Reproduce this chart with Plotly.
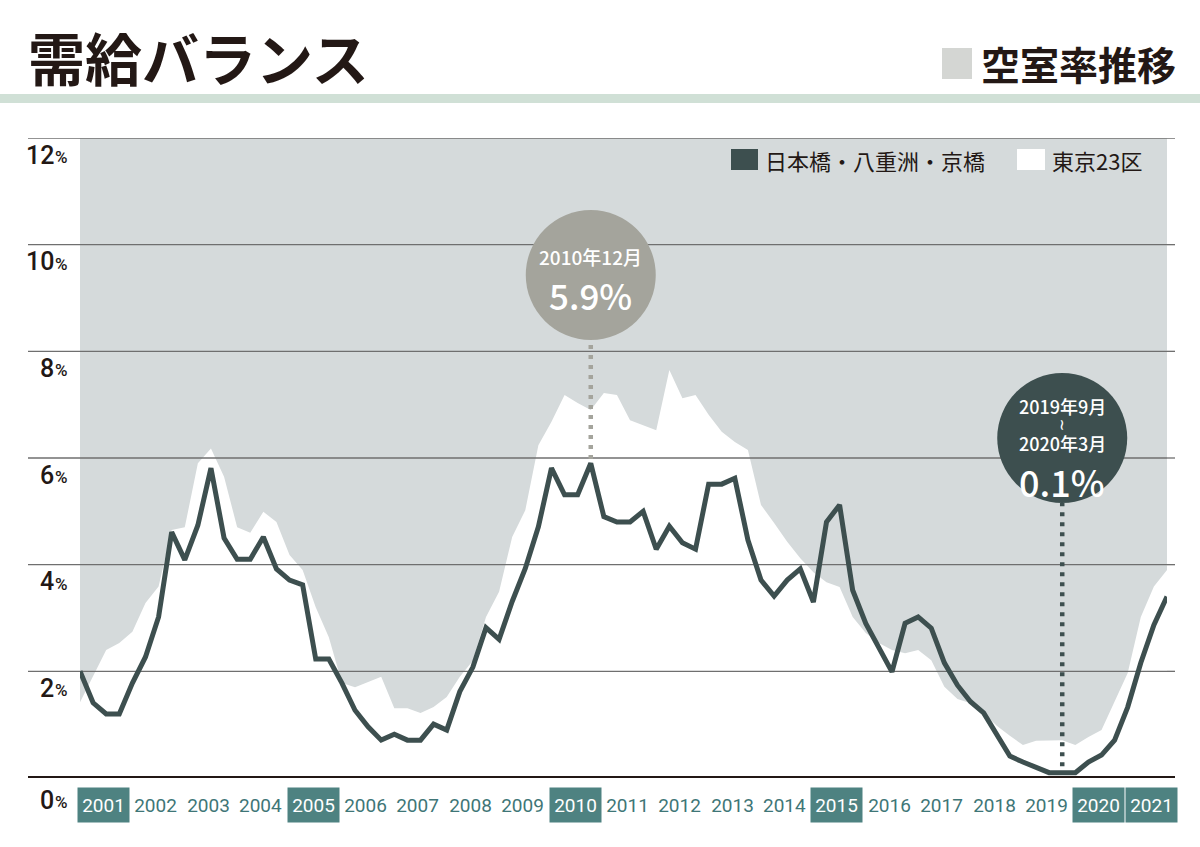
import plotly.graph_objects as go

# ---------------- data ----------------
years = list(range(2001, 2022))
months = [3, 6, 9, 12]
periods = [f"{y}年{m}月" for y in years for m in months]

# 日本橋・八重洲・京橋 vacancy rate (%), quarterly
nihonbashi = [
    2.00, 1.41, 1.20, 1.20, 1.78, 2.27, 3.02, 4.61, 4.09, 4.74, 5.81, 4.50,
    4.10, 4.10, 4.52, 3.92, 3.71, 3.62, 2.23, 2.23, 1.78, 1.27, 0.96, 0.71,
    0.82, 0.71, 0.71, 1.01, 0.90, 1.62, 2.08, 2.82, 2.60, 3.31, 3.93, 4.71,
    5.81, 5.31, 5.31, 5.90, 4.90, 4.80, 4.80, 5.00, 4.29, 4.72, 4.41, 4.29,
    5.51, 5.51, 5.62, 4.46, 3.71, 3.41, 3.71, 3.92, 3.30, 4.80, 5.12, 3.52,
    2.90, 2.43, 1.99, 2.90, 3.02, 2.81, 2.16, 1.74, 1.43, 1.22, 0.81, 0.41,
    0.30, 0.21, 0.10, 0.10, 0.10, 0.30, 0.43, 0.71, 1.33, 2.16, 2.87, 3.40,
]
# 東京23区 vacancy rate (%), quarterly
tokyo23 = [
    1.42, 1.90, 2.40, 2.53, 2.74, 3.28, 3.59, 4.65, 4.70, 5.90, 6.18, 5.65,
    4.70, 4.60, 4.99, 4.80, 4.18, 3.90, 3.20, 2.64, 1.78, 1.70, 1.80, 1.90,
    1.31, 1.31, 1.22, 1.33, 1.52, 1.90, 2.20, 3.02, 3.49, 4.52, 5.02, 6.24,
    6.68, 7.18, 7.03, 6.90, 7.22, 7.18, 6.71, 6.62, 6.52, 7.65, 7.12, 7.18,
    6.81, 6.49, 6.30, 6.15, 5.12, 4.78, 4.43, 4.12, 3.86, 3.67, 3.58, 3.02,
    2.72, 2.53, 2.40, 2.34, 2.40, 2.21, 1.71, 1.48, 1.40, 1.22, 0.98, 0.79,
    0.62, 0.70, 0.71, 0.71, 0.62, 0.77, 0.90, 1.43, 1.97, 3.02, 3.59, 3.90,
]
y_ticks = [0, 2, 4, 6, 8, 10, 12]
highlight_years = [2001, 2005, 2010, 2015, 2020, 2021]

peak_label = "2010年12月"
low_labels = ["2019年9月", "2020年3月"]

# ---------------- layout constants ----------------
W, H = 1200, 847
L, R, T, B = 80, 1167, 138, 778
PW, PH = R - L, B - T

DARK = "#3d4f4f"
GRAY_BG = "#d5dadb"
BUBBLE_GRAY = "#a4a49c"
TEAL = "#4e8281"
TEAL_TXT = "#3f7677"
INK = "#231815"
GRID = "#6f6f6f"
JP = "Noto Sans CJK JP"


def px_x(p):
    return (p - L) / PW


def px_y(p):
    return (B - p) / PH


units_per_px = (y_ticks[-1] - y_ticks[0]) / PH

x = list(range(len(periods)))

fig = go.Figure()

# 東京23区 (white area)
fig.add_trace(go.Scatter(x=x, y=tokyo23, mode="lines", fill="tozeroy",
                         fillcolor="white", line=dict(width=0, color="white"),
                         hoverinfo="skip"))
# inner grid lines (above the white area, below the dark line)
gx, gy = [], []
for v in y_ticks[1:-1]:
    gx += [x[0], x[-1], None]
    gy += [v, v, None]
fig.add_trace(go.Scatter(x=gx, y=gy, mode="lines",
                         line=dict(color=GRID, width=1.3), hoverinfo="skip"))

shapes = []
# bubble 1 (peak)
peak_i = periods.index(peak_label)
peak_v = nihonbashi[peak_i]
r_px = 65
c1_v = (B - 275) * units_per_px
shapes.append(dict(type="line", xref="x", yref="y", x0=peak_i, x1=peak_i,
                   y0=peak_v + 0.08, y1=c1_v - r_px * units_per_px,
                   line=dict(color=BUBBLE_GRAY, width=4.5, dash="4px,6px"),
                   layer="above"))
shapes.append(dict(type="circle", xref="x", yref="y", xsizemode="pixel",
                   ysizemode="pixel", xanchor=peak_i, yanchor=c1_v,
                   x0=-r_px, x1=r_px, y0=-r_px, y1=r_px,
                   fillcolor=BUBBLE_GRAY, line=dict(width=0), layer="above"))

# bubble 2 (low)
low_i0 = periods.index(low_labels[0])
low_i1 = periods.index(low_labels[1])
low_i = (low_i0 + low_i1) / 2
low_v = nihonbashi[low_i0]
c2_v = (B - 438) * units_per_px
fig.add_trace(go.Scatter(x=[low_i, low_i], y=[low_v + 0.12, c2_v - r_px * units_per_px],
                         mode="lines", line=dict(color=DARK, width=4.5, dash="4px,6px"),
                         hoverinfo="skip"))
# 日本橋・八重洲・京橋 line
fig.add_trace(go.Scatter(x=x, y=nihonbashi, mode="lines",
                         line=dict(color=DARK, width=5), hoverinfo="skip"))

shapes.append(dict(type="circle", xref="x", yref="y", xsizemode="pixel",
                   ysizemode="pixel", xanchor=low_i, yanchor=c2_v,
                   x0=-r_px, x1=r_px, y0=-r_px, y1=r_px,
                   fillcolor=DARK, line=dict(width=0), layer="above"))

# grid line extensions outside plot, top line and base line
for v in y_ticks:
    if v == 0:
        shapes.append(dict(type="line", xref="paper", yref="y", x0=px_x(28), x1=px_x(1175),
                           y0=v, y1=v, line=dict(color=INK, width=4), layer="above"))
    elif v == y_ticks[-1]:
        shapes.append(dict(type="line", xref="paper", yref="y", x0=px_x(28), x1=px_x(1175),
                           y0=v, y1=v, line=dict(color=GRID, width=1.3), layer="above"))
    else:
        shapes.append(dict(type="line", xref="paper", yref="y", x0=px_x(28), x1=0,
                           y0=v, y1=v, line=dict(color=GRID, width=1.3), layer="above"))
        shapes.append(dict(type="line", xref="paper", yref="y", x0=1, x1=px_x(1175),
                           y0=v, y1=v, line=dict(color=GRID, width=1.3), layer="above"))

# header band
shapes.append(dict(type="rect", xref="paper", yref="paper", x0=px_x(0), x1=px_x(W),
                   y0=px_y(103), y1=px_y(94), fillcolor="#d0e0d6", line=dict(width=0)))
# subtitle square
shapes.append(dict(type="rect", xref="paper", yref="paper", x0=px_x(942), x1=px_x(972),
                   y0=px_y(79), y1=px_y(48), fillcolor="#d4d6d3", line=dict(width=0)))
# legend squares
shapes.append(dict(type="rect", xref="paper", yref="paper", x0=px_x(731), x1=px_x(758),
                   y0=px_y(170), y1=px_y(149), fillcolor=DARK, line=dict(width=0),
                   layer="above"))
shapes.append(dict(type="rect", xref="paper", yref="paper", x0=px_x(1017), x1=px_x(1045),
                   y0=px_y(170), y1=px_y(149), fillcolor="white", line=dict(width=0),
                   layer="above"))

ann = []
# title / subtitle
ann.append(dict(text="<b>需給バランス</b>", xref="paper", yref="paper", x=px_x(26), y=px_y(56),
                xanchor="left", yanchor="middle", showarrow=False,
                font=dict(family=JP, size=57, color=INK)))
ann.append(dict(text="<b>空室率推移</b>", xref="paper", yref="paper", x=px_x(1178), y=px_y(63),
                xanchor="right", yanchor="middle", showarrow=False,
                font=dict(family=JP, size=39, color=INK)))
# legend texts
ann.append(dict(text="日本橋・八重洲・京橋", xref="paper", yref="paper", x=px_x(763), y=px_y(160),
                xanchor="left", yanchor="middle", showarrow=False,
                font=dict(family=JP, size=22, color=INK)))
ann.append(dict(text="東京23区", xref="paper", yref="paper", x=px_x(1050), y=px_y(160),
                xanchor="left", yanchor="middle", showarrow=False,
                font=dict(family=JP, size=22, color=INK)))

# y labels: number + smaller percent sign
for v in y_ticks:
    off = 22 if v == 0 else 17
    ann.append(dict(text=str(v), xref="paper", yref="y", x=px_x(54), y=v,
                    xanchor="right", yanchor="middle", yshift=-off, xshift=2,
                    showarrow=False,
                    font=dict(family="Roboto", size=25, color=INK, weight=500)))
    ann.append(dict(text="%", xref="paper", yref="y", x=px_x(54), y=v,
                    xanchor="left", yanchor="middle", yshift=-off - 2, xshift=-1,
                    showarrow=False,
                    font=dict(family="Roboto", size=17, color=INK, weight=500)))

# x labels
for k, yr in enumerate(years):
    hl = yr in highlight_years
    ann.append(dict(text=str(yr), xref="x", yref="paper", x=4 * k + 1.8, y=0,
                    xanchor="center", yanchor="middle", yshift=-27, showarrow=False,
                    width=49, height=32, bgcolor=TEAL if hl else "rgba(0,0,0,0)",
                    font=dict(family="Roboto", size=19, color="white" if hl else TEAL_TXT)))

# bubble texts
ann.append(dict(text=peak_label, xref="x", yref="y", x=peak_i, y=c1_v, yshift=19,
                showarrow=False,
                font=dict(family=JP, size=19, color="white", weight=500)))
ann.append(dict(text=f"{peak_v:.1f}%", xref="x", yref="y", x=peak_i, y=c1_v, yshift=-19,
                showarrow=False,
                font=dict(family=JP, size=35, color="white", weight=500)))
ann.append(dict(text=low_labels[0], xref="x", yref="y", x=low_i, y=c2_v, yshift=32,
                showarrow=False,
                font=dict(family=JP, size=18, color="white", weight=500)))
ann.append(dict(text="~", xref="x", yref="y", x=low_i, y=c2_v, yshift=13,
                textangle=90, showarrow=False,
                font=dict(family="DejaVu Sans", size=15, color="white")))
ann.append(dict(text=low_labels[1], xref="x", yref="y", x=low_i, y=c2_v, yshift=-5,
                showarrow=False,
                font=dict(family=JP, size=18, color="white", weight=500)))
ann.append(dict(text=f"{low_v:.1f}%", xref="x", yref="y", x=low_i, y=c2_v, yshift=-43,
                showarrow=False,
                font=dict(family=JP, size=36, color="white", weight=500)))

fig.update_layout(
    width=W, height=H,
    margin=dict(l=L, r=W - R, t=T, b=H - B, pad=0),
    paper_bgcolor="white", plot_bgcolor=GRAY_BG,
    showlegend=False, hovermode=False,
    xaxis=dict(range=[x[0], x[-1]], showgrid=False, zeroline=False, showticklabels=False,
               ticks="", fixedrange=True),
    yaxis=dict(range=[y_ticks[0], y_ticks[-1]], showgrid=False, zeroline=False,
               showticklabels=False, ticks="", fixedrange=True),
    shapes=shapes, annotations=ann,
)

fig.write_html("out.html", config={"displayModeBar": False})
